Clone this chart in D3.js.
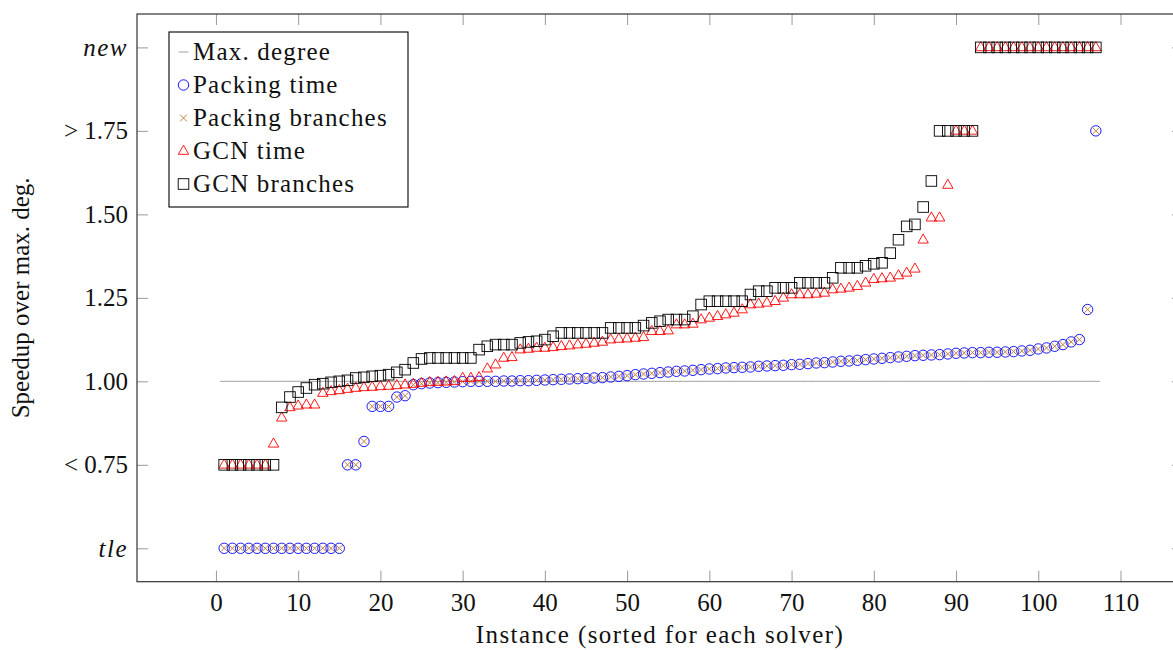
<!DOCTYPE html>
<html>
<head>
<meta charset="utf-8">
<script src="https://cdn.jsdelivr.net/npm/d3@7"></script>
<style>
  body { margin: 0; background: #fff; }
  svg text { font-family: "Liberation Serif", "DejaVu Serif", serif; fill: #111; }
</style>
</head>
<body>
<div id="chart"></div>
<script>
// Chart values, instance index 1..107 (sorted for each solver)
// y: 0.5 = tle, 0.75 = "< 0.75", 1.75 = "> 1.75", 2.0 = new
var yTicks = [0.5, 0.75, 1.0, 1.25, 1.5, 1.75, 2.0];
var yTickLabels = ["tle", "< 0.75", "1.00", "1.25", "1.50", "> 1.75", "new"];
var xTicks = [0, 10, 20, 30, 40, 50, 60, 70, 80, 90, 100, 110];

var maxDegree = [1, 1, 1, 1, 1, 1, 1, 1, 1, 1, 1, 1, 1, 1, 1, 1, 1, 1, 1, 1,
  1, 1, 1, 1, 1, 1, 1, 1, 1, 1, 1, 1, 1, 1, 1, 1, 1, 1, 1, 1,
  1, 1, 1, 1, 1, 1, 1, 1, 1, 1, 1, 1, 1, 1, 1, 1, 1, 1, 1, 1,
  1, 1, 1, 1, 1, 1, 1, 1, 1, 1, 1, 1, 1, 1, 1, 1, 1, 1, 1, 1,
  1, 1, 1, 1, 1, 1, 1, 1, 1, 1, 1, 1, 1, 1, 1, 1, 1, 1, 1, 1,
  1, 1, 1, 1, 1, 1, 1];

var packingTime = [0.5, 0.5, 0.5, 0.5, 0.5, 0.5, 0.5, 0.5, 0.5, 0.5,
  0.5, 0.5, 0.5, 0.5, 0.5, 0.75, 0.75, 0.82, 0.925, 0.925,
  0.925, 0.953, 0.957, 0.99, 0.993, 0.995, 0.996, 0.997, 0.998, 0.999,
  1.0, 1.0, 1.0, 1.0, 1.001, 1.001, 1.002, 1.002, 1.003, 1.004,
  1.005, 1.006, 1.007, 1.008, 1.009, 1.01, 1.011, 1.013, 1.015, 1.017,
  1.02, 1.022, 1.024, 1.026, 1.028, 1.03, 1.031, 1.033, 1.035, 1.037,
  1.038, 1.04, 1.041, 1.042, 1.043, 1.045, 1.046, 1.047, 1.048, 1.05,
  1.051, 1.053, 1.055, 1.056, 1.058, 1.06, 1.061, 1.063, 1.065, 1.067,
  1.069, 1.071, 1.073, 1.075, 1.077, 1.078, 1.079, 1.08, 1.082, 1.084,
  1.085, 1.086, 1.086, 1.087, 1.087, 1.088, 1.089, 1.091, 1.093, 1.097,
  1.1, 1.105, 1.11, 1.118, 1.125, 1.215, 1.75];

var packingBranches = packingTime.slice();

var gcnTime = [0.75, 0.75, 0.75, 0.75, 0.75, 0.75, 0.813, 0.891, 0.922, 0.927,
  0.93, 0.93, 0.965, 0.97, 0.973, 0.977, 0.98, 0.982, 0.983, 0.985,
  0.986, 0.988, 0.99, 0.992, 0.995, 0.997, 0.998, 0.999, 1.0, 1.01,
  1.01, 1.012, 1.038, 1.05, 1.07, 1.072, 1.095, 1.097, 1.1, 1.1,
  1.102, 1.105, 1.107, 1.11, 1.112, 1.115, 1.118, 1.125, 1.127, 1.128,
  1.13, 1.132, 1.15, 1.15, 1.152, 1.17, 1.17, 1.172, 1.185, 1.19,
  1.195, 1.2, 1.205, 1.215, 1.23, 1.232, 1.235, 1.24, 1.25, 1.26,
  1.26, 1.26, 1.262, 1.265, 1.275, 1.277, 1.28, 1.285, 1.295, 1.306,
  1.308, 1.31, 1.317, 1.325, 1.337, 1.424, 1.49, 1.49, 1.588, 1.75,
  1.75, 1.75, 2.0, 2.0, 2.0, 2.0, 2.0, 2.0, 2.0, 2.0,
  2.0, 2.0, 2.0, 2.0, 2.0, 2.0, 2.0];

var gcnBranches = [0.75, 0.75, 0.75, 0.75, 0.75, 0.75, 0.75, 0.922, 0.953, 0.968,
  0.98, 0.99, 0.993, 0.997, 1.0, 1.003, 1.01, 1.012, 1.015, 1.017,
  1.02, 1.027, 1.035, 1.055, 1.067, 1.07, 1.07, 1.07, 1.07, 1.07,
  1.07, 1.095, 1.105, 1.11, 1.11, 1.11, 1.115, 1.118, 1.12, 1.125,
  1.135, 1.145, 1.145, 1.145, 1.145, 1.145, 1.145, 1.16, 1.16, 1.16,
  1.16, 1.167, 1.175, 1.18, 1.185, 1.185, 1.185, 1.195, 1.23, 1.24,
  1.24, 1.24, 1.24, 1.24, 1.26, 1.27, 1.27, 1.28, 1.28, 1.28,
  1.295, 1.295, 1.295, 1.295, 1.31, 1.34, 1.34, 1.34, 1.346, 1.352,
  1.355, 1.384, 1.424, 1.464, 1.47, 1.522, 1.6, 1.75, 1.75, 1.75,
  1.75, 1.75, 2.0, 2.0, 2.0, 2.0, 2.0, 2.0, 2.0, 2.0,
  2.0, 2.0, 2.0, 2.0, 2.0, 2.0, 2.0];

var seriesNames = ["Max. degree", "Packing time", "Packing branches", "GCN time", "GCN branches"];

// svg area
var svgWidth = 1173;
var svgHeight = 650;
var plot = { left: 137, top: 14, right: 1183, bottom: 581.7 };
var fontSize = 25;

var svg = d3.select("#chart")
  .append("svg")
  .attr("width", svgWidth)
  .attr("height", svgHeight);

var xScale = d3.scaleLinear()
  .domain([-9.6, 117.6])
  .range([plot.left, plot.right]);

var yScale = d3.scaleLinear()
  .domain([0.4, 2.1])
  .range([plot.bottom, plot.top]);

var tickColor = "#9a9a9a";

// x axis (ticks inward, bottom and top)
svg.append("g")
  .attr("transform", `translate(0, ${plot.bottom})`)
  .call(d3.axisBottom(xScale).tickValues(xTicks).tickSizeInner(-11).tickSizeOuter(0).tickPadding(12));
svg.append("g")
  .attr("transform", `translate(0, ${plot.top})`)
  .call(d3.axisTop(xScale).tickValues(xTicks).tickSizeInner(-11).tickSizeOuter(0).tickFormat(""));

// y axis (ticks inward, left and right)
var yAxis = svg.append("g")
  .attr("transform", `translate(${plot.left}, 0)`)
  .call(d3.axisLeft(yScale).tickValues(yTicks).tickSizeInner(-11).tickSizeOuter(0).tickPadding(9)
    .tickFormat((d, i) => yTickLabels[i]));
svg.append("g")
  .attr("transform", `translate(${plot.right}, 0)`)
  .call(d3.axisRight(yScale).tickValues(yTicks).tickSizeInner(-11).tickSizeOuter(0).tickFormat(""));

svg.selectAll(".domain").remove();
svg.selectAll(".tick line").attr("stroke", tickColor).attr("stroke-width", 1);
svg.selectAll(".tick text")
  .style("font-family", '"Liberation Serif", serif')
  .style("font-size", fontSize + "px")
  .attr("fill", "#111");
yAxis.selectAll(".tick text")
  .style("font-style", (d, i) => (yTickLabels[i] === "tle" || yTickLabels[i] === "new") ? "italic" : "normal")
  .style("letter-spacing", (d, i) => (yTickLabels[i] === "tle" || yTickLabels[i] === "new") ? "1.5px" : "0px");

// plot frame
svg.append("rect")
  .attr("x", plot.left)
  .attr("y", plot.top)
  .attr("width", plot.right - plot.left)
  .attr("height", plot.bottom - plot.top)
  .attr("fill", "none")
  .attr("stroke", "#333")
  .attr("stroke-width", 1.2);

// axis titles
svg.append("text")
  .attr("x", (plot.left + plot.right) / 2)
  .attr("y", 643)
  .attr("text-anchor", "middle")
  .style("font-size", fontSize + "px")
  .style("letter-spacing", "1.4px")
  .text("Instance (sorted for each solver)");

svg.append("text")
  .attr("transform", `translate(29, ${(plot.top + plot.bottom) / 2}) rotate(-90)`)
  .attr("text-anchor", "middle")
  .style("font-size", fontSize + "px")
  .text("Speedup over max. deg.");

// markers, clipped to the plot area
svg.append("clipPath").attr("id", "plotclip")
  .append("rect")
  .attr("x", plot.left).attr("y", plot.top)
  .attr("width", plot.right - plot.left).attr("height", plot.bottom - plot.top);

var marks = svg.append("g").attr("clip-path", "url(#plotclip)");

function toPoints(values) {
  return values.map((v, i) => ({ x: i + 1, y: v }));
}

var trianglePath = "M0,-5.8L5.2,3.3L-5.2,3.3Z";
var crossPath = "M-3.3,-3.3L3.3,3.3M-3.3,3.3L3.3,-3.3";

var markStyles = [
  { name: seriesNames[0], color: "#999999", draw: g => g.append("line").attr("x1", -4.3).attr("x2", 4.3).attr("y1", 0).attr("y2", 0).attr("stroke", "#999999").attr("stroke-width", 0.9) },
  { name: seriesNames[1], color: "#0000ff", draw: g => g.append("circle").attr("r", 5.2).attr("fill", "none").attr("stroke", "#0000ff").attr("stroke-width", 0.9) },
  { name: seriesNames[2], color: "#bf8040", draw: g => g.append("path").attr("d", crossPath).attr("fill", "none").attr("stroke", "#bf8040").attr("stroke-width", 1) },
  { name: seriesNames[3], color: "#ff0000", draw: g => g.append("path").attr("d", trianglePath).attr("fill", "none").attr("stroke", "#ff0000").attr("stroke-width", 0.9) },
  { name: seriesNames[4], color: "#000000", draw: g => g.append("rect").attr("x", -5.3).attr("y", -5.3).attr("width", 10.6).attr("height", 10.6).attr("fill", "none").attr("stroke", "#000").attr("stroke-width", 0.9) }
];

var allSeries = [maxDegree, packingTime, packingBranches, gcnTime, gcnBranches];

allSeries.forEach(function(values, s) {
  marks.append("g")
    .selectAll("g")
    .data(toPoints(values))
    .enter()
    .append("g")
    .attr("transform", d => `translate(${xScale(d.x)}, ${yScale(d.y)})`)
    .each(function() { markStyles[s].draw(d3.select(this)); });
});

// legend
var legend = svg.append("g").attr("transform", "translate(169, 32)");
legend.append("rect")
  .attr("width", 239)
  .attr("height", 175)
  .attr("fill", "#fff")
  .attr("stroke", "#000")
  .attr("stroke-width", 1.1);

markStyles.forEach(function(m, i) {
  var row = legend.append("g").attr("transform", `translate(0, ${19.5 + i * 33})`);
  var mk = row.append("g").attr("transform", "translate(14.5, 0.5)");
  if (i === 0) {
    mk.append("line").attr("x1", -5).attr("x2", 5).attr("stroke", m.color).attr("stroke-width", 0.9);
  } else {
    m.draw(mk);
  }
  row.append("text")
    .attr("x", 24)
    .attr("y", 8.5)
    .style("font-size", fontSize + "px")
    .style("letter-spacing", "1.2px")
    .text(m.name);
});
</script>
</body>
</html>
